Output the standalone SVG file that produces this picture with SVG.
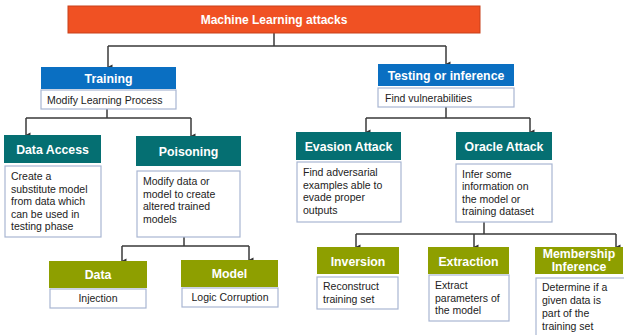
<svg xmlns="http://www.w3.org/2000/svg" width="624" height="335" viewBox="0 0 624 335">
<defs>
<marker id="arr" viewBox="0 0 6 6" refX="3" refY="5.5" markerWidth="6" markerHeight="6" markerUnits="userSpaceOnUse" orient="auto-start-reverse">
<path d="M0.5,1 L5.5,1 L3,6 Z" fill="#333"/>
</marker>
<style>
.hd{font-family:"Liberation Sans",Arial,sans-serif;font-weight:bold;fill:#fff;text-anchor:middle;font-size:12.3px}
.bd{font-family:"Liberation Sans",Arial,sans-serif;font-size:10.5px;fill:#222}
.bdc{font-family:"Liberation Sans",Arial,sans-serif;font-size:10.5px;fill:#222;text-anchor:middle}
.box{fill:#fff;stroke:#a9b6d2;stroke-width:1.2}
.blue{fill:#0a6fc2}
.teal{fill:#056f72}
.olive{fill:#8e9f00}
.con{fill:none;stroke:#3a3a3a;stroke-width:1.5}
.arw{fill:none;stroke:#3a3a3a;stroke-width:1.5;marker-end:url(#arr)}
</style>
</defs>
<g id="connectors">
<path class="con" d="M274,33 V46 M108,46 H446"/>
<path class="arw" d="M108,46 V67"/>
<path class="arw" d="M446,46 V64"/>
<path class="con" d="M107,109 V118 M26,118 H191"/>
<path class="arw" d="M26,118 V135"/>
<path class="arw" d="M191,118 V136"/>
<path class="con" d="M446,107 V118 M366,118 H530"/>
<path class="arw" d="M366,118 V132"/>
<path class="arw" d="M530,118 V132"/>
<path class="con" d="M184,237 V246 M122,246 H249"/>
<path class="arw" d="M122,246 V261"/>
<path class="arw" d="M249,246 V260"/>
<path class="con" d="M484,222 V234 M356,234 H616"/>
<path class="arw" d="M356,234 V247"/>
<path class="arw" d="M474,234 V247"/>
<path class="arw" d="M616,234 V247"/>
</g>
<g id="root">
<rect x="68" y="6" width="412" height="27" fill="#f05123" stroke="#c8401a" stroke-width="1"/>
<text class="hd" x="274" y="24" style="font-size:12px">Machine Learning attacks</text>
</g>
<g id="training">
<rect class="blue" x="41" y="67" width="135" height="22"/>
<text class="hd" x="108.5" y="83">Training</text>
<rect class="box" x="41" y="90" width="135" height="19"/>
<text class="bd" x="47" y="104">Modify Learning Process</text>
</g>
<g id="testing">
<rect class="blue" x="378" y="64" width="136" height="22"/>
<text class="hd" x="446" y="80">Testing or inference</text>
<rect class="box" x="378" y="88" width="136" height="19"/>
<text class="bd" x="385" y="102">Find vulnerabilities</text>
</g>
<g id="data-access">
<rect class="teal" x="4" y="135" width="97" height="28"/>
<text class="hd" x="52.5" y="154">Data Access</text>
<rect class="box" x="5" y="166" width="96" height="71"/>
<text class="bd" x="11" y="180">Create a</text>
<text class="bd" x="11" y="193">substitute model</text>
<text class="bd" x="11" y="205">from data which</text>
<text class="bd" x="11" y="218">can be used in</text>
<text class="bd" x="11" y="230">testing phase</text>
</g>
<g id="poisoning">
<rect class="teal" x="136" y="136" width="105" height="30"/>
<text class="hd" x="188.5" y="156">Poisoning</text>
<rect class="box" x="137" y="171" width="103" height="66"/>
<text class="bd" x="143" y="185">Modify data or</text>
<text class="bd" x="143" y="198">model to create</text>
<text class="bd" x="143" y="210">altered trained</text>
<text class="bd" x="143" y="223">models</text>
</g>
<g id="evasion">
<rect class="teal" x="296" y="132" width="105" height="28"/>
<text class="hd" x="348.5" y="151">Evasion Attack</text>
<rect class="box" x="297" y="162" width="104" height="60"/>
<text class="bd" x="303" y="176">Find adversarial</text>
<text class="bd" x="303" y="189">examples able to</text>
<text class="bd" x="303" y="201">evade proper</text>
<text class="bd" x="303" y="214">outputs</text>
</g>
<g id="oracle">
<rect class="teal" x="456" y="132" width="96" height="28"/>
<text class="hd" x="504" y="151">Oracle Attack</text>
<rect class="box" x="456" y="164" width="96" height="58"/>
<text class="bd" x="462" y="178">Infer some</text>
<text class="bd" x="462" y="190">information on</text>
<text class="bd" x="462" y="203">the model or</text>
<text class="bd" x="462" y="215">training dataset</text>
</g>
<g id="data">
<rect class="olive" x="49" y="261" width="98" height="27"/>
<text class="hd" x="98" y="279">Data</text>
<rect class="box" x="50" y="289" width="96" height="19"/>
<text class="bdc" x="98" y="302">Injection</text>
</g>
<g id="model">
<rect class="olive" x="181" y="260" width="97" height="27"/>
<text class="hd" x="229.5" y="278">Model</text>
<rect class="box" x="182" y="288" width="96" height="19"/>
<text class="bdc" x="230" y="301">Logic Corruption</text>
</g>
<g id="inversion">
<rect class="olive" x="317" y="247" width="82" height="27"/>
<text class="hd" x="358" y="266">Inversion</text>
<rect class="box" x="317" y="277" width="81" height="32"/>
<text class="bd" x="323" y="290">Reconstruct</text>
<text class="bd" x="323" y="303">training set</text>
</g>
<g id="extraction">
<rect class="olive" x="428" y="247" width="81" height="27"/>
<text class="hd" x="468.5" y="266">Extraction</text>
<rect class="box" x="429" y="275" width="80" height="46"/>
<text class="bd" x="435" y="289">Extract</text>
<text class="bd" x="435" y="302">parameters of</text>
<text class="bd" x="435" y="314">the model</text>
</g>
<g id="membership">
<rect class="olive" x="535" y="247" width="88" height="27"/>
<text class="hd" x="579" y="258">Membership</text>
<text class="hd" x="579" y="271">Inference</text>
<rect class="box" x="536" y="278" width="90" height="60"/>
<text class="bd" x="542" y="291">Determine if a</text>
<text class="bd" x="542" y="304">given data is</text>
<text class="bd" x="542" y="317">part of the</text>
<text class="bd" x="542" y="330">training set</text>
</g>
</svg>
